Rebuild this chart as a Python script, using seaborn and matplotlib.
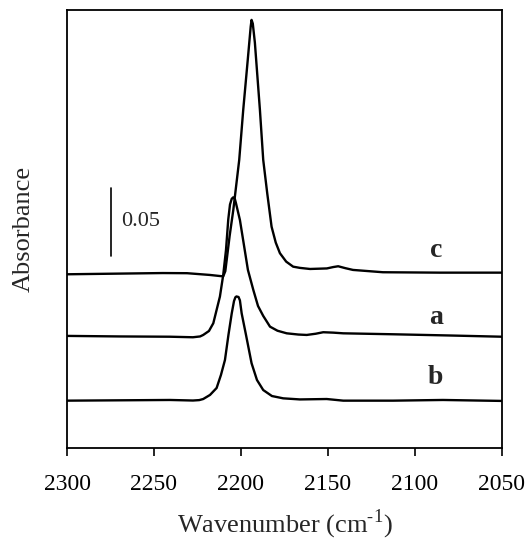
import seaborn as sns
import pandas as pd
import matplotlib.pyplot as plt

# spectra (wavenumber cm-1, absorbance incl. vertical offset)
wn_c = [2300, 2269.5, 2245.0, 2231.0, 2217.8, 2212.0, 2210.2, 2209.0, 2208.2, 2206.5,
        2204.4, 2201.0, 2198.7, 2196.1, 2194.4, 2193.9, 2193.2, 2192.0, 2189.1, 2187.2,
        2184.9, 2182.4, 2180.0, 2177.6, 2174.0, 2170.0, 2166.1, 2160.3, 2150.6, 2147.0,
        2144.1, 2140.0, 2135.6, 2118.4, 2085.6, 2050]
abs_c = [0.1277, 0.1282, 0.1286, 0.1285, 0.1272, 0.1264, 0.1262, 0.1300, 0.1382, 0.1560,
         0.1750, 0.2118, 0.2485, 0.2853, 0.3098, 0.3147, 0.3120, 0.2980, 0.2485, 0.2118,
         0.1873, 0.1627, 0.1510, 0.1432, 0.1370, 0.1333, 0.1324, 0.1316, 0.1320, 0.1330,
         0.1336, 0.1322, 0.1309, 0.1292, 0.1289, 0.1289]

wn_a = [2300, 2269.5, 2240.8, 2227.6, 2223.5, 2221.7, 2218.4, 2215.9, 2214.0, 2212.1,
        2210.2, 2208.6, 2207.3, 2206.3, 2205.3, 2204.4, 2203.5, 2202.9, 2200.6, 2198.3,
        2196.0, 2192.9, 2190.2, 2187.2, 2183.3, 2179.0, 2173.7, 2167.0, 2162.2, 2157.0,
        2152.7, 2147.0, 2141.2, 2112.6, 2079.9, 2050]
abs_a = [0.0824, 0.0820, 0.0818, 0.0814, 0.0820, 0.0831, 0.0860, 0.0917, 0.1015, 0.1113,
         0.1272, 0.1456, 0.1680, 0.1790, 0.1832, 0.1843, 0.1830, 0.1801, 0.1676, 0.1493,
         0.1309, 0.1162, 0.1044, 0.0971, 0.0892, 0.0862, 0.0843, 0.0834, 0.0831, 0.0840,
         0.0851, 0.0848, 0.0843, 0.0836, 0.0827, 0.0818]

wn_b = [2300, 2263.8, 2240.8, 2227.6, 2224.0, 2221.7, 2217.8, 2214.0, 2211.5, 2209.2,
        2207.2, 2205.3, 2204.0, 2203.2, 2202.6, 2201.4, 2200.6, 2199.6, 2197.1, 2193.9,
        2190.8, 2187.2, 2182.2, 2175.7, 2166.1, 2150.7, 2141.2, 2112.5, 2083.9, 2050]
abs_b = [0.0348, 0.0351, 0.0353, 0.0349, 0.0352, 0.0360, 0.0390, 0.0441, 0.0537, 0.0647,
         0.0831, 0.0990, 0.1080, 0.1108, 0.1114, 0.1110, 0.1085, 0.0990, 0.0831, 0.0623,
         0.0500, 0.0426, 0.0382, 0.0365, 0.0357, 0.0360, 0.0348, 0.0348, 0.0353, 0.0346]

labels = ['c', 'a', 'b']
label_pos = [(2088, 0.145), (2088, 0.096), (2088, 0.052)]
x_ticks = [2300, 2250, 2200, 2150, 2100, 2050]
scale_bar = 0.05

df = pd.concat([
    pd.DataFrame({'wavenumber': wn_c, 'absorbance': abs_c, 'sample': 'c'}),
    pd.DataFrame({'wavenumber': wn_a, 'absorbance': abs_a, 'sample': 'a'}),
    pd.DataFrame({'wavenumber': wn_b, 'absorbance': abs_b, 'sample': 'b'}),
])

sns.set_theme(style='ticks')
plt.rcParams['font.family'] = ['Liberation Serif', 'DejaVu Serif']
plt.rcParams['mathtext.fontset'] = 'custom'
plt.rcParams['mathtext.rm'] = 'Liberation Serif'

fig = plt.figure(figsize=(5.29, 5.45), dpi=100)
ax = fig.add_axes([0.1267, 0.178, 0.822, 0.8037])

sns.lineplot(data=df, x='wavenumber', y='absorbance', hue='sample', units='sample',
             estimator=None, palette={'a': 'black', 'b': 'black', 'c': 'black'},
             linewidth=1.7, legend=False, ax=ax)

# scale bar
ax.plot([2275, 2275], [0.1412, 0.1412 + scale_bar], color='black', linewidth=1.2)
ax.text(2269, 0.1412 + scale_bar / 2, '0.05', fontsize=16, va='center', ha='left')

for lab, (x, y) in zip(labels, label_pos):
    ax.text(x, y, lab, fontsize=20, fontweight='bold', ha='center', va='center')

ax.set_xlim(2300, 2050)
ax.set_ylim(0, 0.322)
ax.set_xticks(x_ticks)
ax.set_xticklabels([str(t) for t in x_ticks], fontsize=17)
ax.set_yticks([])
ax.tick_params(axis='x', direction='out', length=6, width=1.2, pad=13, colors='black')
for s in ax.spines.values():
    s.set_visible(True)
    s.set_linewidth(1.3)
    s.set_color('black')
ax.set_xlabel('Wavenumber (cm$^{\\text{-1}}$)', fontsize=19, labelpad=9)
ax.set_ylabel('Absorbance', fontsize=19, labelpad=23)

fig.savefig('out.png', dpi=100)
